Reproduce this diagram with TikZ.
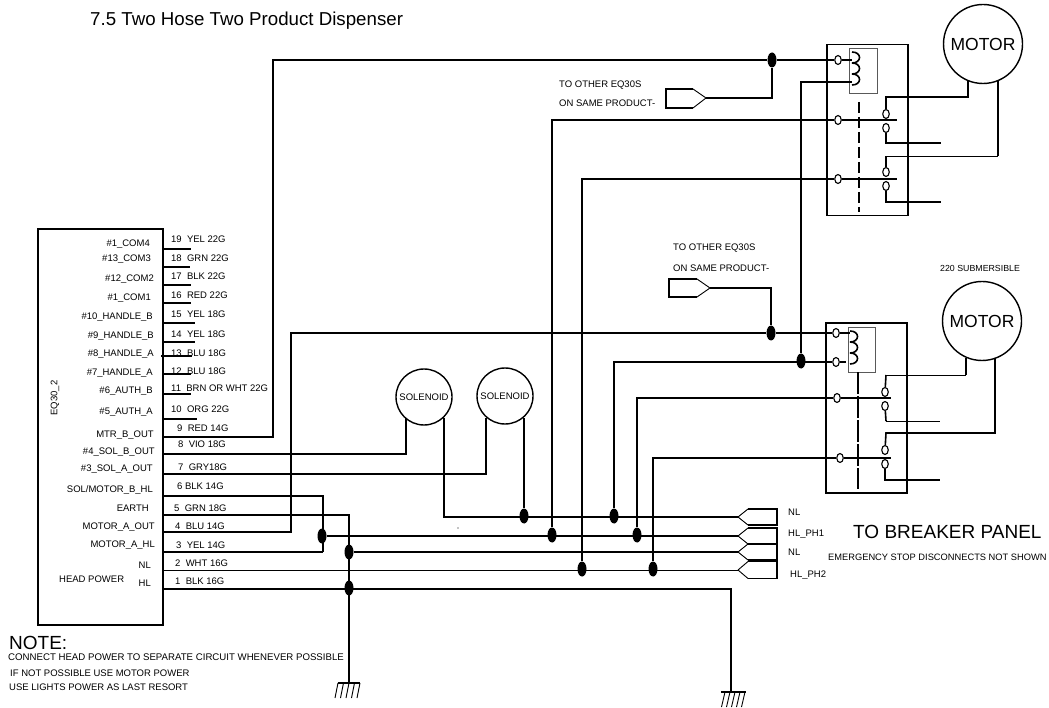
\documentclass[tikz,border=0pt]{standalone}
\usepackage{fontspec}
\setmainfont{Liberation Sans}
\usetikzlibrary{shapes.geometric}

\tikzset{
  wire/.style={line width=1.6pt},
  thinwire/.style={line width=0.9pt},
  lab/.style={font=\fontsize{9.5}{10}\selectfont, inner sep=0pt},
  dotjoin/.style={ellipse, fill=black, inner sep=0pt, minimum width=9pt, minimum height=15pt},
  term/.style={ellipse, draw, line width=1.1pt, fill=white, inner sep=0pt, minimum width=6.5pt, minimum height=9pt},
  motor/.style={circle, draw, line width=1.4pt, inner sep=0pt, minimum size=79pt, font=\fontsize{17.5}{18}\selectfont},
  solenoid/.style={circle, draw, line width=1.4pt, inner sep=0pt, minimum size=56pt, font=\fontsize{9.5}{10}\selectfont},
}

\begin{document}
\begin{tikzpicture}[x=1pt,y=-1pt]
	\useasboundingbox (0,0) rectangle (1049,708);

	\node[anchor=west,inner sep=0pt,font=\fontsize{18.7}{20}\selectfont] (title) at (90,21) {7.5 Two Hose Two Product Dispenser};

	% head
	\node[draw,wire,minimum width=125pt,minimum height=396pt,outer sep=0pt] (EQ) at (100.5,427) {};
	\node[lab,rotate=90] (EQname) at (55,398) {EQ30\_2};

	\foreach \n/\y/\x/\t in {19/244/150/\#1\_COM4, 18/259/151/\#13\_COM3, 17/279/154/\#12\_COM2, 16/298/151/\#1\_COM1,
		15/317/153/\#10\_HANDLE\_B, 14/336/154/\#9\_HANDLE\_B, 13/354/154/\#8\_HANDLE\_A, 12/373/153/\#7\_HANDLE\_A,
		11/391/153/\#6\_AUTH\_B, 10/412/153/\#5\_AUTH\_A, 9/435/154/MTR\_B\_OUT, 8/452/155/\#4\_SOL\_B\_OUT,
		7/469/153/\#3\_SOL\_A\_OUT, 6/490/153/{SOL/MOTOR\_B\_HL}, 5/508/149/EARTH, 4/527/155/MOTOR\_A\_OUT,
		3/545/155/MOTOR\_A\_HL, 2/565/151/NL, 1/583/151/HL}
		\node[lab,anchor=east] (sig\n) at (\x,\y) {\t};
	\node[lab,anchor=west] (headpower) at (59,579) {HEAD POWER};

	\foreach \n/\y/\x/\t in {19/239/171/19\ \ YEL 22G, 18/258/171/18\ \ GRN 22G, 17/276/171/17\ \ BLK 22G, 16/295/171/16\ \ RED 22G,
		15/314/171/15\ \ YEL 18G, 14/334/171/14\ \ YEL 18G, 13/353/171/13\ \ BLU 18G, 12/371/171/12\ \ BLU 18G,
		11/388/171/11\ \ BRN OR WHT 22G, 10/409/171/10\ \ ORG 22G, 9/428/177/9\ \ RED 14G, 8/444/178/8\ \ VIO 18G,
		7/467/178/7\ \ GRY18G, 6/486/177/6\ BLK 14G, 5/508/174/5\ \ GRN 18G, 4/526/175/4\ \ BLU 14G,
		3/545/176/3\ \ YEL 14G, 2/563/175/2\ \ WHT 16G, 1/581/175/1\ \ BLK 16G}
		\node[lab,anchor=west] (wirelab\n) at (\x,\y) {\t};

	\foreach \n/\y in {9/437,8/454,7/474,6/496,5/515,4/532,3/552,2/570,1/589}
		\coordinate (pin\n) at (163,\y);

	% short pins
	\foreach \y/\a/\b in {249/163/191,267/163/190,285/163/191,303/163/191,323/163/195,342/163/195,356/161/192,374/163/191,394/163/191,419/163/197}
		\draw[wire] (\a,\y) -- (\b,\y);

	% notes
	\node[anchor=west,inner sep=0pt,font=\fontsize{19}{20}\selectfont] (note) at (9,643) {NOTE:};
	\node[anchor=west,inner sep=0pt,font=\fontsize{9.65}{10}\selectfont] (note1) at (8,657) {CONNECT HEAD POWER TO SEPARATE CIRCUIT WHENEVER POSSIBLE};
	\node[lab,anchor=west] (note2) at (10,673) {IF NOT POSSIBLE USE MOTOR POWER};
	\node[lab,anchor=west] (note3) at (9,687) {USE LIGHTS POWER AS LAST RESORT};

	% solenoids and motors
	\node[solenoid] (sol1) at (424,397) {SOLENOID};
	\node[solenoid] (sol2) at (505,396) {SOLENOID};
	\node[motor] (mot1) at (983,44) {MOTOR};
	\node[motor] (mot2) at (982,321) {MOTOR};
	\node[lab,anchor=west,font=\fontsize{8.8}{10}\selectfont] (sub) at (940,268) {220 SUBMERSIBLE};

	% relay boxes
	\node[draw,wire,minimum width=81pt,minimum height=171pt,outer sep=0pt] (rel1) at (867.5,130) {};
	\node[draw,wire,minimum width=81pt,minimum height=170pt,outer sep=0pt] (rel2) at (866.5,408) {};
	\node[draw,gray!70!black,line width=1pt,minimum width=28pt,minimum height=45pt,outer sep=0pt] (coil1) at (863,71.5) {};
	\node[draw,gray!70!black,line width=1pt,minimum width=27pt,minimum height=44pt,outer sep=0pt] (coil2) at (861.5,350) {};
	\foreach \y in {52,63,74}
		\draw[wire] (852,\y) .. controls (862,\y) and (862,\y+11) .. (852,\y+11);
	\foreach \y in {331,342,353}
		\draw[wire] (850,\y) .. controls (860,\y) and (860,\y+11) .. (850,\y+11);
	\draw[wire,dash pattern=on 11pt off 4pt] (859,102) -- (859,212);
	\draw[wire,dash pattern=on 22pt off 2pt] (858,372) -- (858,489);

	% terminals
	\node[term] (t1a) at (838,60) {};
	\node[term] (t1b) at (838,120) {};
	\node[term] (t1c) at (838,179) {};
	\node[term] (t2a) at (836,333) {};
	\node[term] (t2b) at (836,362) {};
	\node[term] (t2c) at (837,398) {};
	\node[term] (t2d) at (840,458) {};

	\foreach \n/\y in {a/114,b/128,c/172,d/186}
		\node[term] (k1\n) at (886,\y) {};
	\foreach \n/\y in {a/392,b/406,c/450,d/464}
		\node[term] (k2\n) at (885,\y) {};

	% joints
	\node[dotjoin] (j1) at (772,60) {};
	\node[dotjoin] (j2) at (771,333) {};
	\node[dotjoin] (j3) at (801,361) {};
	\node[dotjoin] (j4) at (524,516) {};
	\node[dotjoin] (j5) at (614,516) {};
	\node[dotjoin] (j6) at (552,535) {};
	\node[dotjoin] (j7) at (637,535) {};
	\node[dotjoin] (j8) at (582,569) {};
	\node[dotjoin] (j9) at (653,569) {};
	\node[dotjoin] (j10) at (322,536) {};
	\node[dotjoin] (j11) at (349,552) {};
	\node[dotjoin] (j12) at (349,588) {};

	% product tags
	\coordinate (tagA) at (706,98);
	\draw[wire] (tagA) ++(-13,-9) -- ++(-27,0) -- ++(0,19) -- ++(27,0);
	\draw[thinwire] (tagA) -- ++(-13,-9) (tagA) -- ++(-13,10);
	\coordinate (tagB) at (710,288);
	\draw[wire] (tagB) ++(-13,-9) -- ++(-28,0) -- ++(0,18) -- ++(28,0);
	\draw[thinwire] (tagB) -- ++(-13,-9) (tagB) -- ++(-13,9);
	\node[lab,anchor=west] (tagAtop) at (559,85) {TO OTHER EQ30S};
	\node[lab,anchor=west] (tagAbot) at (559,103) {ON SAME PRODUCT-};
	\node[lab,anchor=west] (tagBtop) at (673,248) {TO OTHER EQ30S};
	\node[lab,anchor=west] (tagBbot) at (673,268) {ON SAME PRODUCT-};

	% breaker tags
	\foreach \n/\y/\h in {a/517/8,b/536/8,c/552/8,d/570/8.5}{
		\coordinate (bus\n) at (738,\y);
		\draw[wire] (bus\n) ++(10,-\h) -- (777,\y-\h) -- (777,\y+\h) -- ++(-29,0);
		\draw[thinwire] (bus\n) -- ++(10,-\h) (bus\n) -- ++(10,\h);
	}
	\node[lab,anchor=west] (nl1) at (788,512) {NL};
	\node[lab,anchor=west] (ph1) at (788,534) {HL\_PH1};
	\node[lab,anchor=west] (nl2) at (788,552) {NL};
	\node[lab,anchor=west] (ph2) at (790,575) {HL\_PH2};
	\node[anchor=west,inner sep=0pt,font=\fontsize{19}{20}\selectfont] (panel) at (853,532) {TO BREAKER PANEL};
	\node[anchor=west,inner sep=0pt,font=\fontsize{9.3}{10}\selectfont] (estop) at (828,557) {EMERGENCY STOP DISCONNECTS NOT SHOWN};

	% wires
	\coordinate (up9) at (273,60);
	\coordinate (c1a) at (852,60);
	\coordinate (c1b) at (852,82);
	\coordinate (c2a) at (850,333);
	\coordinate (c2b) at (846,362);
	\draw[wire] (pin9) -| (up9) -- (j1) -- (t1a) -- (c1a);
	\draw[wire] (tagA) -| (j1);
	\draw[wire] (pin4) -| (291,333) -- (j2) -- (t2a) -- (c2a);
	\draw[wire] (tagB) -| (j2);
	\draw[wire] (c1b) -| (j3);
	\draw[wire] (j5) |- (t2b) -- (c2b);
	\draw[wire] (j6) |- (t1b) -- (897,120);
	\draw[wire] (j7) |- (t2c) -- (891,398);
	\draw[wire] (j8) |- (t1c) -- (897,179);
	\draw[wire] (j9) |- (t2d) -- (891,458);

	\draw[wire] (pin8) -| (406,418);
	\draw[wire] (pin7) -| (486,418);
	\draw[wire] (444,418) |- (busa);
	\draw[wire] (524,418) -- (j4);

	\draw[wire] (pin6) -| (323,552);
	\draw[wire] (pin3) -- (323,552);
	\draw[wire] (j10) -- (busb);
	\draw[wire] (j11) -- (busc);
	\draw[wire] (pin5) -| (349,683);
	\draw[thinwire] (pin2) -- (busd);
	\draw[wire] (pin1) -| (731,692);

	% motor contacts
	\draw[wire] (k1a) -- (886,97) -| (968,80);
	\draw[wire] (k1b) |- (941,143);
	\draw[thinwire] (886,156) -- (998,156);
	\draw[wire] (k1c) -- (886,156);
	\draw[wire] (998,156) -- (998,81);
	\draw[wire] (k1d) |- (941,202);

	\draw[thinwire] (886,375) -- (966,375);
	\draw[wire] (k2a) -- (886,375);
	\draw[wire] (966,375) -- (966,358);
	\draw[wire] (k2b) -- (886,421);
	\draw[thinwire] (886,421) -- (940,421);
	\draw[wire] (k2c) -- (886,433) -| (995,358);
	\draw[wire] (k2d) |- (940,480);

	% grounds
	\draw[wire] (338,683) -- (360,683);
	\foreach \x in {338,343.5,349,354.5,360}
		\draw[thinwire] (\x,683) -- (\x-3,698);
	\draw[wire] (721,692) -- (746,692);
	\foreach \x in {725,730,735,740,745}
		\draw[thinwire] (\x,692) -- (\x-3.5,707);

	\fill (458,528) circle (0.6pt);
\end{tikzpicture}
\end{document}
